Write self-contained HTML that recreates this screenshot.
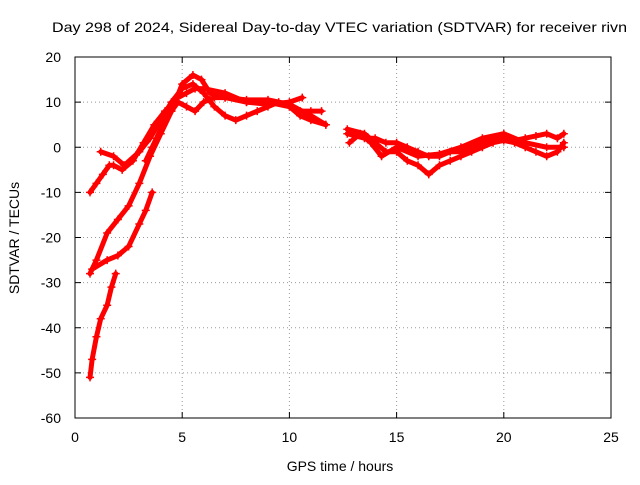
<!DOCTYPE html>
<html><head><meta charset="utf-8"><style>
body{margin:0;background:#fff;}
svg text{font-family:"Liberation Sans",sans-serif;font-size:14px;fill:#000;}
</style></head><body>
<svg id="chart" width="640" height="480" viewBox="0 0 640 480">
<rect width="640" height="480" fill="#fff"/>
<text x="52" y="32" textLength="575" lengthAdjust="spacingAndGlyphs">Day 298 of 2024, Sidereal Day-to-day VTEC variation (SDTVAR) for receiver rivn</text>
<text x="340" y="471" text-anchor="middle">GPS time / hours</text>
<text transform="translate(19,238) rotate(-90)" text-anchor="middle">SDTVAR / TECUs</text>
<g id="grid"></g><g id="axes"></g><g id="series"></g>
<rect x="75" y="57" width="536" height="361" fill="none" stroke="#000" stroke-width="1"/>
</svg>
<script>
const xTicks=[0,5,10,15,20,25];
const yTicks=[20,10,0,-10,-20,-30,-40,-50,-60];
const s1=[[0.7,-51],[0.8,-47],[1.0,-42],[1.2,-38],[1.5,-35],[1.7,-31],[1.9,-28]];
const s2=[[0.7,-28],[1.0,-25],[1.5,-19],[2.0,-16],[2.5,-13],[3.0,-8],[3.5,-2],[4.0,3],[4.5,8],[5.0,14],[5.5,16],[5.9,15],[6.3,12],[7,11],[8,10],[9,10],[10,9],[10.5,7],[11,6],[11.7,5]];
const s3=[[0.8,-27],[1.5,-25],[2,-24],[2.5,-22],[3,-17],[3.3,-14],[3.6,-10]];
const s4=[[0.7,-10],[1.0,-8],[1.3,-6],[1.6,-4],[1.8,-4],[2.2,-5],[2.7,-3],[3.2,1],[3.7,5],[4.2,8],[4.8,11],[5.2,12],[5.6,13],[6,13],[7,12],[8,10],[9,9.5],[10,10],[10.6,11]];
const s5=[[1.2,-1],[1.8,-2],[2.3,-4],[3,-1],[3.5,2],[4,6],[4.5,10],[5,13],[5.5,14],[6,12],[6.5,9],[7,7],[7.5,6],[8,7],[8.5,8],[9,9],[9.5,10],[10,9],[10.5,8],[11,8],[11.5,8]];
const s6=[[3.3,-3],[3.6,0],[4,4],[4.5,8],[4.8,10],[5.2,9],[5.6,8],[6,10],[6.5,11],[7,11],[8,10.5],[9,10.5],[10,9.5],[11,7],[11.7,5]];
const s7=[[12.7,4],[13.5,3],[14,1],[14.5,-1],[15,-1],[15.5,-3],[16,-4],[16.5,-6],[17,-4],[17.5,-3],[18,-2],[18.5,-1],[19,0],[19.5,1],[20,1.5],[20.5,1],[21,0],[21.5,-1],[22,-2],[22.5,-1],[22.8,1]];
const s8=[[12.7,3],[13.5,2],[14,2],[14.5,1],[15,1],[15.5,0],[16,-1],[16.5,-2],[17,-2],[17.5,-1],[18,-1],[18.5,0],[19,1],[19.5,2],[20,2],[20.5,1.5],[21,2],[21.5,2.5],[22,3],[22.5,2],[22.8,3]];
const s9=[[12.8,1],[13.3,3],[13.8,1],[14.3,-2],[15,0],[16,-2],[17,-1.5],[18,0],[19,2],[20,3],[21,1],[22,0],[22.8,0]];
const seriesList=[s1,s2,s3,s4,s5,s6,s7,s8,s9];
const NS="http://www.w3.org/2000/svg";
const X=v=>75+v*(536/25);
const Y=v=>57+(20-v)*(361/80);
function mk(tag,attrs,parent){const e=document.createElementNS(NS,tag);for(const k in attrs)e.setAttribute(k,attrs[k]);parent.appendChild(e);return e;}
const grid=document.getElementById('grid'),axes=document.getElementById('axes'),ser=document.getElementById('series');
xTicks.forEach(t=>{
 if(t>0&&t<25){const g=mk('line',{x1:X(t),x2:X(t),y1:57,y2:418,stroke:'#999','stroke-dasharray':'1,3'},grid);
 
 }
 mk('line',{x1:X(t),x2:X(t),y1:418,y2:412,stroke:'#000'},axes);
 mk('line',{x1:X(t),x2:X(t),y1:57,y2:63,stroke:'#000'},axes);
 const l=mk('text',{x:X(t),y:442,'text-anchor':'middle'},axes);l.textContent=t;
 
 
});
yTicks.forEach(t=>{
 if(t>-60&&t<20){const g=mk('line',{x1:75,x2:611,y1:Y(t),y2:Y(t),stroke:'#999','stroke-dasharray':'1,3'},grid);
 
 }
 mk('line',{x1:75,x2:81,y1:Y(t),y2:Y(t),stroke:'#000'},axes);
 mk('line',{x1:611,x2:605,y1:Y(t),y2:Y(t),stroke:'#000'},axes);
 const l=mk('text',{x:61,y:Y(t)+5,'text-anchor':'end'},axes);l.textContent=t;
 
 
});
seriesList.forEach((s,i)=>{
 const g=mk('g',{},ser);
 
 
 mk('polyline',{points:s.map(p=>X(p[0])+','+Y(p[1])).join(' '),fill:'none',stroke:'#f00','stroke-width':5,'stroke-linejoin':'round','stroke-linecap':'round'},g);
 s.forEach(p=>{const x=X(p[0]),y=Y(p[1]);
  mk('path',{d:`M${x-4},${y}H${x+4}M${x},${y-4}V${y+4}`,stroke:'#f00','stroke-width':1.5},g);});
});
</script>
</body></html>
